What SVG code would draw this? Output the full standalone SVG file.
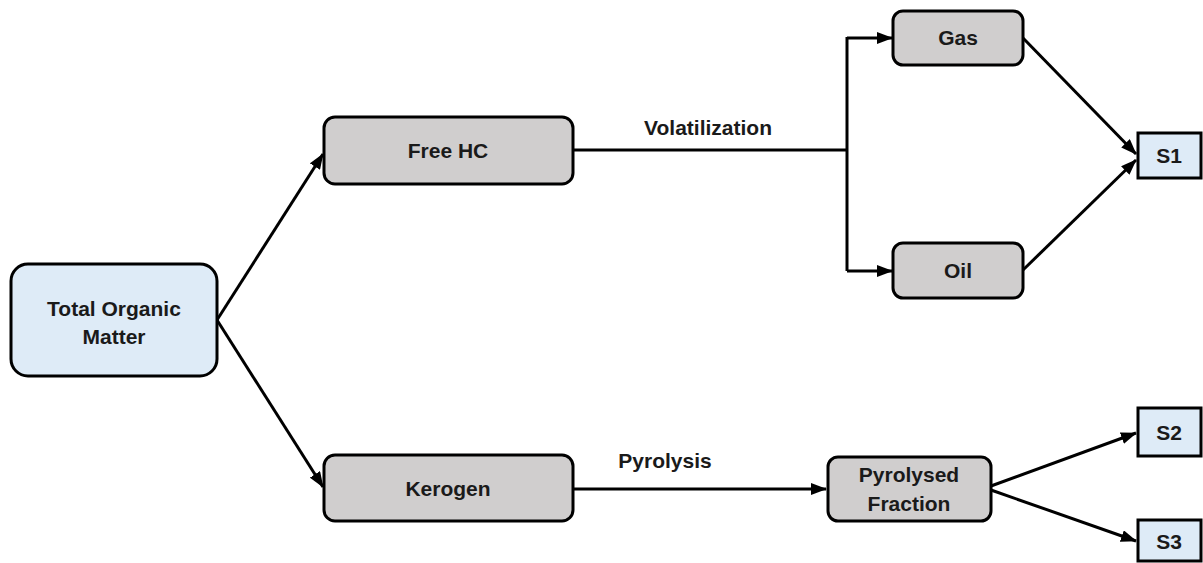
<svg xmlns="http://www.w3.org/2000/svg" width="1203" height="563" viewBox="0 0 1203 563">
<style>
.box{stroke:#000;stroke-width:3}
.grey{fill:#d0cece}
.blue{fill:#deebf7}
.t{font-family:"Liberation Sans",Arial,sans-serif;font-weight:bold;font-size:21px;fill:#1a1a1a;text-anchor:middle}
.c{stroke:#000;stroke-width:3;fill:none}
</style>
<defs>
<marker id="ahl" markerWidth="16" markerHeight="12" refX="15" refY="6" orient="auto" markerUnits="userSpaceOnUse" viewBox="0 0 16 12">
<path d="M0,0 L16,6 L0,12 z" fill="#000"/>
</marker>
</defs>
<g id="connectors">
<line class="c" x1="217" y1="320" x2="323" y2="154" marker-end="url(#ahl)"/>
<line class="c" x1="217" y1="320" x2="323" y2="487" marker-end="url(#ahl)"/>
<polyline class="c" points="573,150 847,150"/>
<polyline class="c" points="847,37 847,271"/>
<line class="c" x1="847" y1="38" x2="892" y2="38" marker-end="url(#ahl)"/>
<line class="c" x1="847" y1="271" x2="892" y2="271" marker-end="url(#ahl)"/>
<line class="c" x1="1023" y1="38" x2="1136" y2="154" marker-end="url(#ahl)"/>
<line class="c" x1="1023" y1="270" x2="1136" y2="160" marker-end="url(#ahl)"/>
<line class="c" x1="573" y1="489" x2="826" y2="489" marker-end="url(#ahl)"/>
<line class="c" x1="991" y1="486" x2="1136" y2="433" marker-end="url(#ahl)"/>
<line class="c" x1="991" y1="490" x2="1136" y2="541" marker-end="url(#ahl)"/>
<text class="t" x="708" y="135">Volatilization</text>
<text class="t" x="665" y="468">Pyrolysis</text>
</g>
<g id="tom">
<rect class="box blue" x="11" y="264" width="206" height="112" rx="17"/>
<text class="t" x="114" y="316">Total Organic</text>
<text class="t" x="114" y="344">Matter</text>
</g>
<g id="freehc">
<rect class="box grey" x="324" y="117" width="249" height="67" rx="11"/>
<text class="t" x="448" y="158">Free HC</text>
</g>
<g id="kerogen">
<rect class="box grey" x="324" y="455" width="249" height="66" rx="11"/>
<text class="t" x="448" y="496">Kerogen</text>
</g>
<g id="gas">
<rect class="box grey" x="893" y="11" width="130" height="54" rx="10"/>
<text class="t" x="958" y="45">Gas</text>
</g>
<g id="oil">
<rect class="box grey" x="893" y="243" width="130" height="55" rx="10"/>
<text class="t" x="958" y="278">Oil</text>
</g>
<g id="pyrolysed">
<rect class="box grey" x="828" y="457" width="163" height="64" rx="10"/>
<text class="t" x="909" y="482">Pyrolysed</text>
<text class="t" x="909" y="511">Fraction</text>
</g>
<g id="s1">
<rect class="box blue" x="1138" y="133" width="63" height="45"/>
<text class="t" x="1169" y="163">S1</text>
</g>
<g id="s2">
<rect class="box blue" x="1138" y="408" width="63" height="48"/>
<text class="t" x="1169" y="440">S2</text>
</g>
<g id="s3">
<rect class="box blue" x="1138" y="520" width="63" height="41"/>
<text class="t" x="1169" y="549">S3</text>
</g>
</svg>
